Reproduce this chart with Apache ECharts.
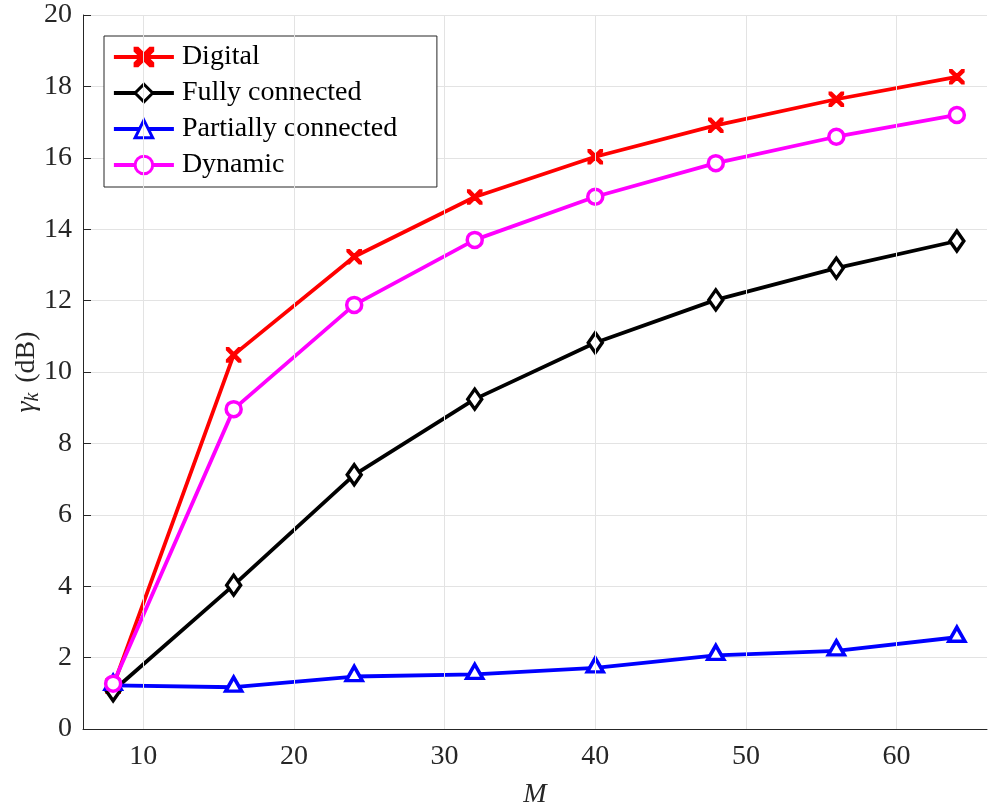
<!DOCTYPE html>
<html>
<head>
<meta charset="utf-8">
<script src="https://cdn.jsdelivr.net/npm/echarts@6/dist/echarts.min.js"></script>
<style>html,body{margin:0;padding:0;background:#fff}#c{width:994px;height:809px}</style>
</head>
<body>
<div id="c"></div>
<script>
var M = [8, 16, 24, 32, 40, 48, 56, 64];
var digital = [1.20, 10.48, 13.23, 14.90, 16.03, 16.91, 17.64, 18.27];
var fullyConnected = [1.07, 4.03, 7.12, 9.24, 10.82, 12.02, 12.91, 13.67];
var partiallyConnected = [1.22, 1.17, 1.47, 1.53, 1.71, 2.06, 2.19, 2.57];
var dynamicArr = [1.27, 8.96, 11.88, 13.70, 14.91, 15.85, 16.59, 17.20];
var xTicks = [10, 20, 30, 40, 50, 60];
var yTicks = [0, 2, 4, 6, 8, 10, 12, 14, 16, 18, 20];
var seriesNames = ['Digital', 'Fully connected', 'Partially connected', 'Dynamic'];

var FONT = 'Liberation Serif';
var AX = '#262626';
function pairs(ys) { return M.map(function (m, i) { return [m, ys[i]]; }); }
var xMark = 'path://M0,0 L3,0 L10,7 L17,0 L20,0 L20,3 L13,10 L20,17 L20,20 L17,20 L10,13 L3,20 L0,20 L0,17 L7,10 L0,3 Z';

function lineSeries(name, ys, color, symbol, size, hollow, offset) {
  return {
    name: name, type: 'line', data: pairs(ys),
    color: color,
    symbol: symbol, symbolSize: size, symbolOffset: offset || [0, 0],
    showAllSymbol: true,
    lineStyle: { color: color, width: 3.8 },
    itemStyle: hollow ? { color: '#ffffff', borderColor: color, borderWidth: 3.5 }
                      : { color: color, borderColor: color, borderWidth: 1.6 },
    emphasis: { disabled: true }, animation: false, z: 3
  };
}

var chart = echarts.init(document.getElementById('c'), null, { renderer: 'canvas' });
chart.setOption({
  backgroundColor: '#fff',
  animation: false,
  grid: { left: 83, right: 7, top: 15, bottom: 80, containLabel: false, outerBoundsMode: 'none' },
  legend: {
    orient: 'vertical', left: 104, top: 36,
    padding: [6, 10, 7, 8], itemGap: 6, itemWidth: 60, itemHeight: 22,
    backgroundColor: '#fff', borderColor: AX, borderWidth: 1,
    data: seriesNames,
    lineStyle: { width: 3.8 },
    itemStyle: { borderWidth: 3 },
    textStyle: { fontFamily: FONT, fontSize: 28, color: '#000', lineHeight: 30, width: 245, padding: [0, 0, 0, 3] },
    selectedMode: false
  },
  xAxis: {
    type: 'value', min: 6, max: 66,
    name: 'M', nameLocation: 'middle', nameGap: 52, nameMoveOverlap: false,
    nameTextStyle: { fontFamily: FONT, fontSize: 28, fontStyle: 'italic', color: AX },
    axisLine: { show: true, lineStyle: { color: AX, width: 1 } },
    axisTick: { show: true, inside: true, length: 8, customValues: xTicks, lineStyle: { color: AX } },
    axisLabel: { customValues: xTicks, fontFamily: FONT, fontSize: 28, color: AX, margin: 14 },
    splitLine: { show: false }
  },
  yAxis: {
    type: 'value', min: 0, max: 20, interval: 2,
    name: '{g|γ}{s|k} (dB)', nameLocation: 'middle', nameGap: 40, nameMoveOverlap: false,
    nameTextStyle: {
      fontFamily: FONT, fontSize: 28, color: AX,
      rich: {
        g: { fontFamily: FONT, fontSize: 28, fontStyle: 'italic', color: AX },
        s: { fontFamily: FONT, fontSize: 20, fontStyle: 'italic', color: AX, padding: [12, 3, 0, 0] }
      }
    },
    axisLine: { show: true, lineStyle: { color: AX, width: 1 } },
    axisTick: { show: true, inside: true, length: 8, lineStyle: { color: AX } },
    axisLabel: { fontFamily: FONT, fontSize: 28, color: AX, margin: 11,
      formatter: function (v) { return yTicks.indexOf(v) >= 0 ? String(v) : ''; } },
    splitLine: { show: true, lineStyle: { color: '#e3e3e3', width: 1 } }
  },
  series: [
    {
      name: 'grid', type: 'line', data: [], z: 1, silent: true, animation: false,
      markLine: {
        silent: true, symbol: ['none', 'none'], animation: false,
        label: { show: false },
        lineStyle: { color: '#e3e3e3', width: 1, type: 'solid' },
        emphasis: { disabled: true },
        data: xTicks.map(function (v) { return { xAxis: v }; })
      }
    },
    lineSeries('Digital', digital, '#ff0000', xMark, 14, false),
    lineSeries('Fully connected', fullyConnected, '#000000', 'diamond', [14, 20], true),
    lineSeries('Partially connected', partiallyConnected, '#0000ff', 'triangle', [16, 14], true, [0, -3]),
    lineSeries('Dynamic', dynamicArr, '#ff00ff', 'circle', 15, true)
  ]
});
</script>
</body>
</html>
